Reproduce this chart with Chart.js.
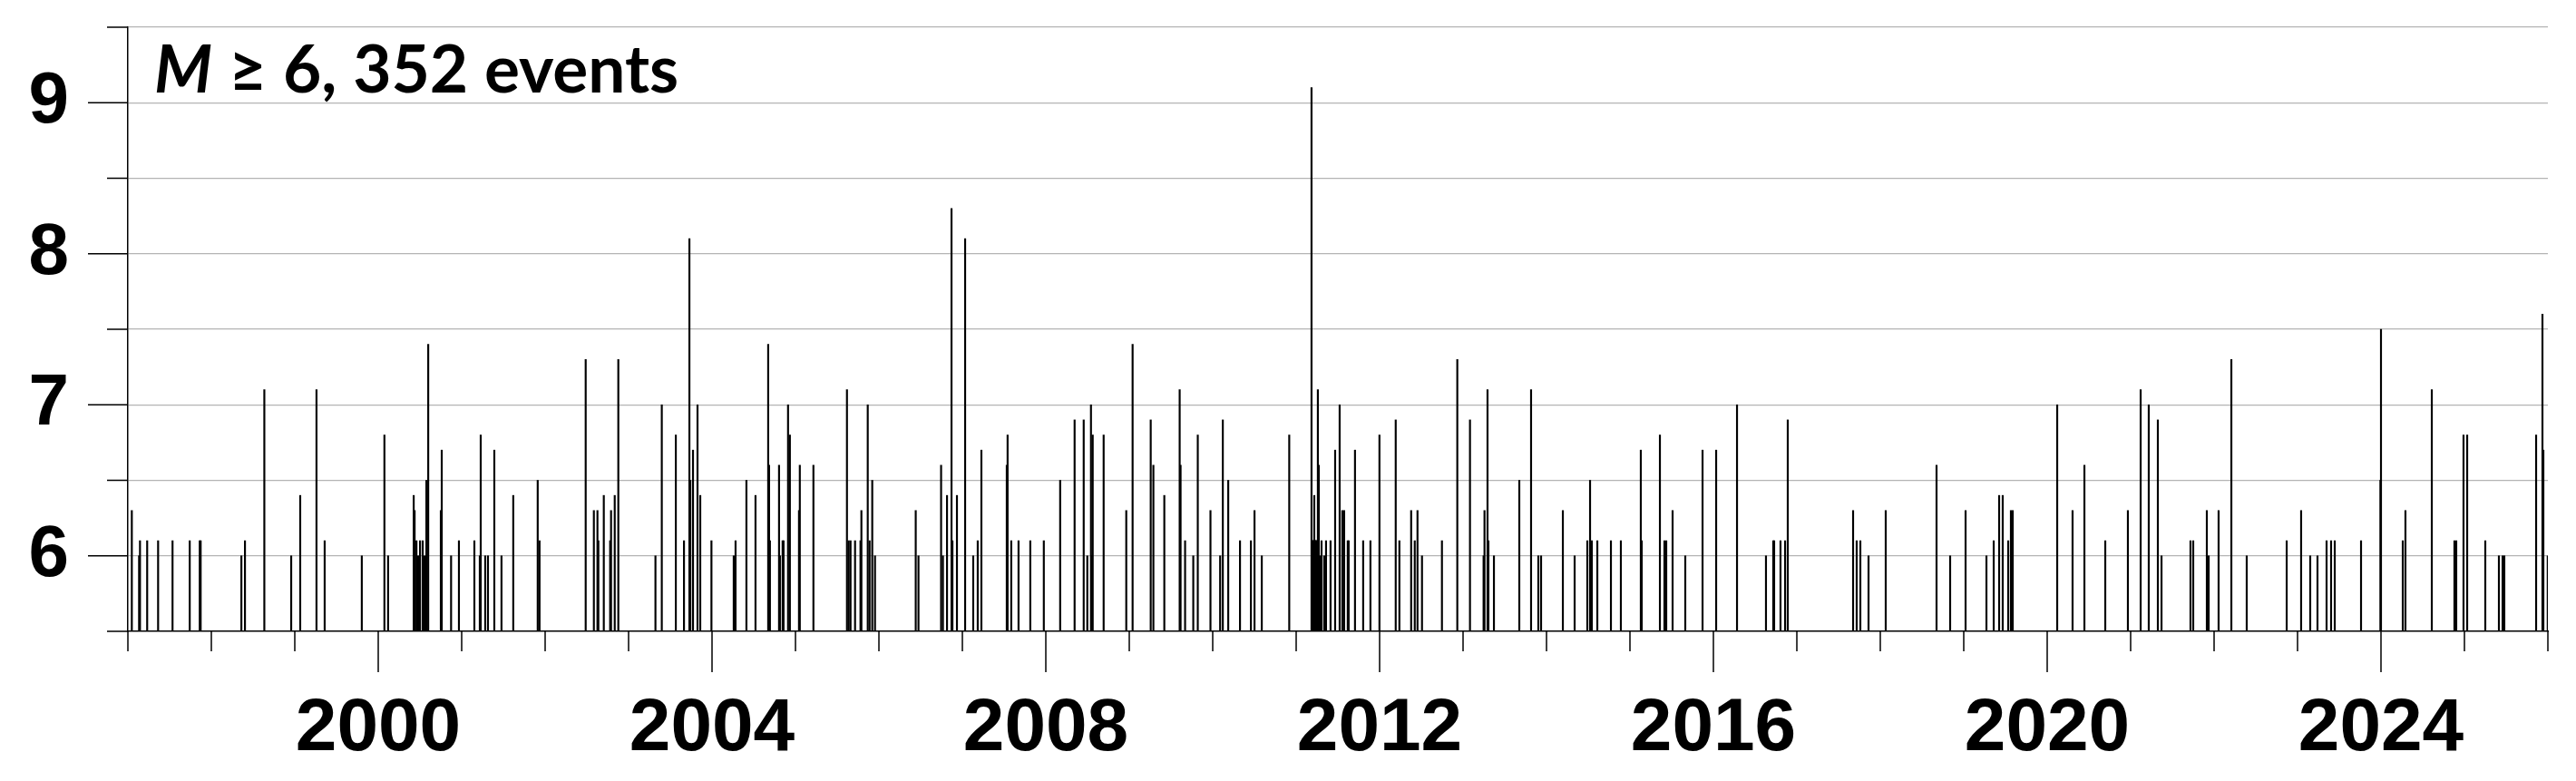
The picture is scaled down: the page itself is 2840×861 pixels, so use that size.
<!DOCTYPE html>
<html>
<head>
<meta charset="utf-8">
<script src="https://cdn.jsdelivr.net/npm/chart.js@4.4.1/dist/chart.umd.min.js"></script>
<style>
    html, body { margin: 0; padding: 0; background: #fff; }
    #wrap { position: relative; width: 2840px; height: 861px; }
    #tag {
        position: absolute; left: 170px; top: 38px;
        font-family: Lato, "Open Sans", sans-serif; font-weight: bold;
        font-size: 73px; line-height: 1; color: #000; white-space: nowrap;
    }
</style>
</head>
<body>
<div id="wrap">
    <canvas id="quakeChart"></canvas>
    <div id="tag"><i>M</i> ≥ 6, 352 events</div>
</div>
<script>
// M>=6 events, decimal year and magnitude
const eventTime = [
    1997.047, 1997.134, 1997.145, 1997.231, 1997.362, 1997.535, 1997.741, 1997.861, 1997.872,
    1998.360, 1998.403, 1998.635, 1998.957, 1999.065, 1999.260, 1999.358, 1999.803,
    2000.074, 2000.118, 2000.425, 2000.436, 2000.458, 2000.479, 2000.501, 2000.533, 2000.555,
    2000.577, 2000.599, 2000.750, 2000.761, 2000.873, 2000.967,
    2001.152, 2001.217, 2001.228, 2001.282, 2001.315, 2001.391, 2001.477, 2001.618, 2001.911, 2001.933,
    2002.486, 2002.584, 2002.627, 2002.638, 2002.703, 2002.779, 2002.790, 2002.834, 2002.877,
    2003.322, 2003.398, 2003.566, 2003.664, 2003.729, 2003.740, 2003.772, 2003.826, 2003.859, 2003.993,
    2004.260, 2004.282, 2004.412, 2004.521, 2004.673, 2004.684, 2004.694, 2004.803, 2004.814,
    2004.846, 2004.857, 2004.911, 2004.933,
    2005.042, 2005.052, 2005.215, 2005.617, 2005.638, 2005.660, 2005.714, 2005.779, 2005.790,
    2005.866, 2005.888, 2005.920, 2005.953,
    2006.441, 2006.474, 2006.745, 2006.767, 2006.816, 2006.870, 2006.881, 2006.935,
    2007.033, 2007.130, 2007.184, 2007.228, 2007.532, 2007.542, 2007.586, 2007.673, 2007.814, 2007.976,
    2008.172, 2008.345, 2008.454, 2008.497, 2008.541, 2008.552, 2008.562, 2008.693, 2008.964,
    2009.040, 2009.257, 2009.289, 2009.420, 2009.604, 2009.615, 2009.669, 2009.767, 2009.821, 2009.973,
    2010.089, 2010.121, 2010.186, 2010.327, 2010.458, 2010.501, 2010.588, 2010.917,
    2011.184, 2011.188, 2011.192, 2011.195, 2011.199, 2011.203, 2011.206, 2011.210, 2011.214,
    2011.217, 2011.221, 2011.225, 2011.228, 2011.232, 2011.236, 2011.239, 2011.243, 2011.246,
    2011.260, 2011.271, 2011.282, 2011.304, 2011.336, 2011.358, 2011.412, 2011.467, 2011.521,
    2011.553, 2011.575, 2011.618, 2011.629, 2011.705, 2011.803, 2011.890, 2011.998,
    2012.193, 2012.237, 2012.378, 2012.421, 2012.454, 2012.508, 2012.747, 2012.931,
    2013.083, 2013.246, 2013.257, 2013.293, 2013.304, 2013.370, 2013.674, 2013.815, 2013.902, 2013.935,
    2014.196, 2014.337, 2014.489, 2014.522, 2014.543, 2014.609, 2014.772, 2014.891,
    2015.130, 2015.141, 2015.359, 2015.413, 2015.435, 2015.511, 2015.663, 2015.870,
    2016.033, 2016.283, 2016.630, 2016.717, 2016.728, 2016.804, 2016.859, 2016.891,
    2017.674, 2017.717, 2017.761, 2017.859, 2018.065, 2018.674, 2018.837,
    2019.022, 2019.272, 2019.359, 2019.424, 2019.467, 2019.533, 2019.565, 2019.587,
    2020.120, 2020.304, 2020.446, 2020.696, 2020.967,
    2021.120, 2021.217, 2021.326, 2021.370, 2021.717, 2021.750, 2021.913, 2021.935,
    2022.054, 2022.207, 2022.391, 2022.870,
    2023.043, 2023.152, 2023.239, 2023.348, 2023.402, 2023.446, 2023.761, 2023.993,
    2024.000, 2024.261, 2024.293, 2024.609, 2024.880, 2024.902, 2024.989,
    2025.033, 2025.250, 2025.413, 2025.457, 2025.478, 2025.859, 2025.935, 2025.946, 2025.998
];
const eventMag = [
    6.3, 6.0, 6.1, 6.1, 6.1, 6.1, 6.1, 6.1, 6.1,
    6.0, 6.1, 7.1, 6.0, 6.4, 7.1, 6.1, 6.0,
    6.8, 6.0, 6.4, 6.3, 6.1, 6.0, 6.1, 6.1, 6.0,
    6.5, 7.4, 6.3, 6.7, 6.0, 6.1,
    6.1, 6.0, 6.8, 6.0, 6.0, 6.7, 6.0, 6.4, 6.5, 6.1,
    7.3, 6.3, 6.3, 6.1, 6.4, 6.1, 6.3, 6.4, 7.3,
    6.0, 7.0, 6.8, 6.1, 8.1, 6.5, 6.7, 7.0, 6.4, 6.1,
    6.0, 6.1, 6.5, 6.4, 7.4, 6.6, 6.1, 6.6, 6.0,
    6.1, 6.1, 7.0, 6.8,
    6.3, 6.6, 6.6, 7.1, 6.1, 6.1, 6.1, 6.1, 6.3,
    7.0, 6.1, 6.5, 6.0,
    6.3, 6.0, 6.6, 6.0, 6.4, 8.3, 6.1, 6.4,
    8.1, 6.0, 6.1, 6.7, 6.6, 6.8, 6.1, 6.1, 6.1, 6.1,
    6.5, 6.9, 6.9, 6.0, 7.0, 6.0, 6.8, 6.8, 6.3,
    7.4, 6.9, 6.6, 6.4, 7.1, 6.6, 6.1, 6.0, 6.8, 6.3,
    6.0, 6.9, 6.5, 6.1, 6.1, 6.3, 6.0, 6.8,
    9.1, 6.1, 6.0, 6.1, 6.1, 6.0, 6.1, 6.0, 6.1,
    6.4, 6.1, 6.0, 6.1, 6.1, 6.0, 6.1, 6.1, 6.1,
    7.1, 6.6, 6.0, 6.1, 6.0, 6.1, 6.1, 6.7, 7.0,
    6.3, 6.3, 6.1, 6.1, 6.7, 6.1, 6.1, 6.8,
    6.9, 6.1, 6.3, 6.1, 6.3, 6.0, 6.1, 7.3,
    6.9, 6.0, 6.3, 7.1, 6.1, 6.0, 6.5, 7.1, 6.0, 6.0,
    6.3, 6.0, 6.1, 6.5, 6.1, 6.1, 6.1, 6.1,
    6.7, 6.1, 6.8, 6.1, 6.1, 6.3, 6.0, 6.7,
    6.7, 7.0, 6.0, 6.1, 6.1, 6.1, 6.1, 6.9,
    6.3, 6.1, 6.1, 6.0, 6.3, 6.6, 6.0,
    6.3, 6.0, 6.1, 6.4, 6.4, 6.1, 6.3, 6.3,
    7.0, 6.3, 6.6, 6.1, 6.3,
    7.1, 7.0, 6.9, 6.0, 6.1, 6.1, 6.3, 6.0,
    6.3, 7.3, 6.0, 6.1,
    6.3, 6.0, 6.0, 6.1, 6.1, 6.1, 6.1, 6.5,
    7.5, 6.1, 6.3, 7.1, 6.1, 6.1, 6.8,
    6.8, 6.1, 6.0, 6.0, 6.0, 6.8, 7.6, 6.7, 6.0
];
const yearLabels = [2000, 2004, 2008, 2012, 2016, 2020, 2024];
const magLabels = [6, 7, 8, 9];

const axisFont = '"Liberation Sans", Arial, sans-serif';

// tick marks: long at labelled values, short elsewhere
const tickMarks = {
    id: 'tickMarks',
    afterDraw(chart) {
        const { ctx, chartArea, scales } = chart;
        const x = scales.x, y = scales.y;
        ctx.save();
        ctx.strokeStyle = '#000';
        ctx.lineWidth = 1.5;
        ctx.beginPath();
        y.ticks.forEach(t => {
            const py = y.getPixelForValue(t.value);
            const len = magLabels.includes(t.value) ? 44 : 23;
            ctx.moveTo(chartArea.left - len, py);
            ctx.lineTo(chartArea.left, py);
        });
        x.ticks.forEach(t => {
            const px = x.getPixelForValue(t.value);
            const len = yearLabels.includes(t.value) ? 45 : 22;
            ctx.moveTo(px, chartArea.bottom);
            ctx.lineTo(px, chartArea.bottom + len);
        });
        ctx.stroke();
        ctx.restore();
    }
};

const ctx = document.getElementById('quakeChart').getContext('2d');
new Chart(ctx, {
    type: 'bar',
    data: {
        datasets: [{
            data: eventTime.map((t, i) => ({ x: t, y: eventMag[i] })),
            base: 5.5,
            backgroundColor: '#000',
            borderWidth: 0,
            barThickness: 1.5,
            grouped: false
        }]
    },
    options: {
        responsive: true,
        maintainAspectRatio: false,
        animation: false,
        devicePixelRatio: 1,
        layout: { padding: { left: 31, right: 31, top: 30, bottom: 0 } },
        plugins: { legend: { display: false }, tooltip: { enabled: false } },
        scales: {
            x: {
                type: 'linear',
                min: 1997,
                max: 2026,
                offset: false,
                grid: { display: true, color: 'rgba(0,0,0,0)', drawTicks: true, tickLength: 45, tickColor: 'rgba(0,0,0,0)' },
                border: { display: true, color: '#000', width: 1.5 },
                ticks: {
                    stepSize: 1,
                    autoSkip: false,
                    maxRotation: 0,
                    padding: 14,
                    color: '#000',
                    font: { family: axisFont, size: 82, weight: 'bold' },
                    callback: v => yearLabels.includes(v) ? String(v) : ''
                },
                afterFit: s => { s.paddingLeft = 0; s.paddingRight = 0; s.height = 165; }
            },
            y: {
                min: 5.5,
                max: 9.5,
                grid: {
                    color: c => c.tick && c.tick.value === 5.5 ? 'rgba(0,0,0,0)' : '#b4b4b4',
                    lineWidth: 1.2,
                    drawTicks: true,
                    tickLength: 44,
                    tickColor: 'rgba(0,0,0,0)'
                },
                border: { display: true, color: '#000', width: 1.5 },
                ticks: {
                    stepSize: 0.5,
                    autoSkip: false,
                    padding: 21,
                    color: '#000',
                    font: { family: axisFont, size: 80, weight: 'bold' },
                    callback: v => magLabels.includes(v) ? String(v) : ''
                },
                afterFit: s => { s.paddingTop = 0; s.paddingBottom = 0; s.width = 110; }
            }
        }
    },
    plugins: [tickMarks]
});
</script>
</body>
</html>
